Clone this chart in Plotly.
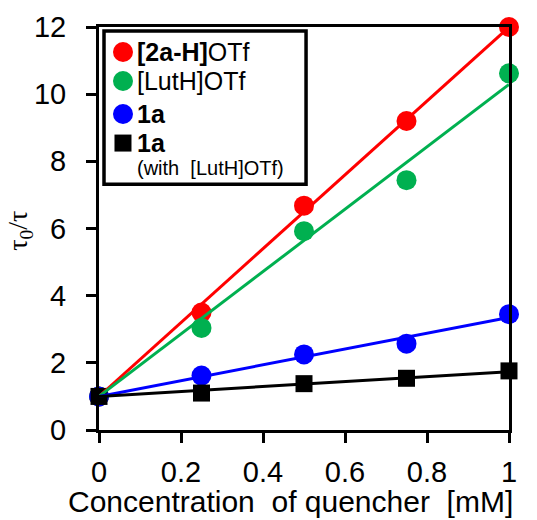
import numpy as np
import plotly.graph_objects as go

# Quencher concentration [mM]
conc = [0, 0.25, 0.5, 0.75, 1.0]

# tau0/tau for each quencher
tau_2aH = [1.0, 3.50, 6.68, 9.20, 12.0]
tau_LutH = [1.0, 3.04, 5.92, 7.44, 10.62]
tau_1a = [1.0, 1.62, 2.25, 2.57, 3.45]
tau_1a_Lut = [1.0, 1.10, 1.38, 1.54, 1.76]

x_ticks = [0, 0.2, 0.4, 0.6, 0.8, 1]
x_tick_text = ["0", "0.2", "0.4", "0.6", "0.8", "1"]
y_ticks = [0, 2, 4, 6, 8, 10, 12]

FONT = "Liberation Sans, Arial, sans-serif"

series = [
    (tau_2aH, "#ff0000", "circle", 20),
    (tau_LutH, "#00b050", "circle", 20),
    (tau_1a, "#0000ff", "circle", 20),
    (tau_1a_Lut, "#000000", "square", 17),
]


def stern_volmer_fit(x, y):
    """Slope of y = 1 + K*x by least squares (intercept fixed at 1)."""
    x = np.asarray(x, float)
    y = np.asarray(y, float)
    return float(np.sum(x * (y - 1)) / np.sum(x * x))


fig = go.Figure()

# Data points
for y, color, symbol, size in series:
    fig.add_trace(go.Scatter(
        x=conc, y=y, mode="markers",
        marker=dict(color=color, symbol=symbol, size=size, line=dict(width=0)),
        cliponaxis=False, showlegend=False, hoverinfo="x+y",
    ))

# Linear Stern-Volmer fits
x_fit = np.array([min(conc), max(conc)])
for y, color, symbol, size in series:
    k = stern_volmer_fit(conc, y)
    fig.add_trace(go.Scatter(
        x=x_fit, y=1 + k * x_fit, mode="lines",
        line=dict(color=color, width=3),
        cliponaxis=False, showlegend=False, hoverinfo="skip",
    ))

axis_common = dict(
    showgrid=False, zeroline=False, automargin=False,
    showline=True, linecolor="black", linewidth=3, mirror=True,
    ticks="outside", ticklen=10, tickwidth=3, tickcolor="black",
    tickfont=dict(family=FONT, size=29, color="black"),
)

fig.update_xaxes(
    range=[0, 1], tickvals=x_ticks, ticktext=x_tick_text,
    ticklabelstandoff=4,
    **axis_common,
)
fig.update_yaxes(
    range=[0, 12], tickvals=y_ticks,
    ticklabelstandoff=14,
    **axis_common,
)

annotations = [
    # Y-axis title
    dict(
        text="τ<sub>0</sub>/τ", textangle=-90, showarrow=False,
        xref="paper", yref="paper", x=-0.193, y=0.494,
        xanchor="center", yanchor="middle",
        font=dict(family="Liberation Serif, Times New Roman, serif", size=28, color="black"),
    ),
    # X-axis title
    dict(
        text="Concentration&nbsp; of quencher&nbsp; [mM]", showarrow=False,
        xref="paper", yref="paper", x=0.468, y=-0.178,
        xanchor="center", yanchor="middle",
        font=dict(family=FONT, size=30, color="black"),
    ),
]

# Legend box
shapes = [dict(
    type="rect", xref="paper", yref="paper",
    x0=0.0122, x1=0.505, y0=0.610, y1=0.990,
    line=dict(color="black", width=3.5), fillcolor="white", layer="above",
)]

legend_rows = [
    ("<b>[2a-H]</b>OTf", "#ff0000", "circle", 0.938),
    ("[LutH]OTf", "#00b050", "circle", 0.866),
    ("<b>1a</b>", "#0000ff", "circle", 0.784),
    ("<b>1a</b>", "#000000", "rect", 0.712),
]
mx = 0.0585
for label, color, kind, yc in legend_rows:
    half = 10 if kind == "circle" else 8.5
    shapes.append(dict(
        type=kind, xref="paper", yref="paper",
        xsizemode="pixel", ysizemode="pixel",
        xanchor=mx, yanchor=yc,
        x0=-half, x1=half, y0=-half, y1=half,
        fillcolor=color, line=dict(width=0), layer="above",
    ))
    annotations.append(dict(
        text=label, showarrow=False, xref="paper", yref="paper",
        x=0.0880, y=yc, xanchor="left", yanchor="middle",
        font=dict(family=FONT, size=25, color="black"),
    ))
annotations.append(dict(
    text="(with&nbsp; [LutH]OTf)", showarrow=False, xref="paper", yref="paper",
    x=0.0880, y=0.650, xanchor="left", yanchor="middle",
    font=dict(family=FONT, size=20, color="black"),
))

fig.update_layout(
    width=537, height=520,
    margin=dict(l=99, r=28, t=27, b=90),
    paper_bgcolor="white", plot_bgcolor="white",
    shapes=shapes, annotations=annotations,
    showlegend=False,
)

fig.write_html("out.html")
